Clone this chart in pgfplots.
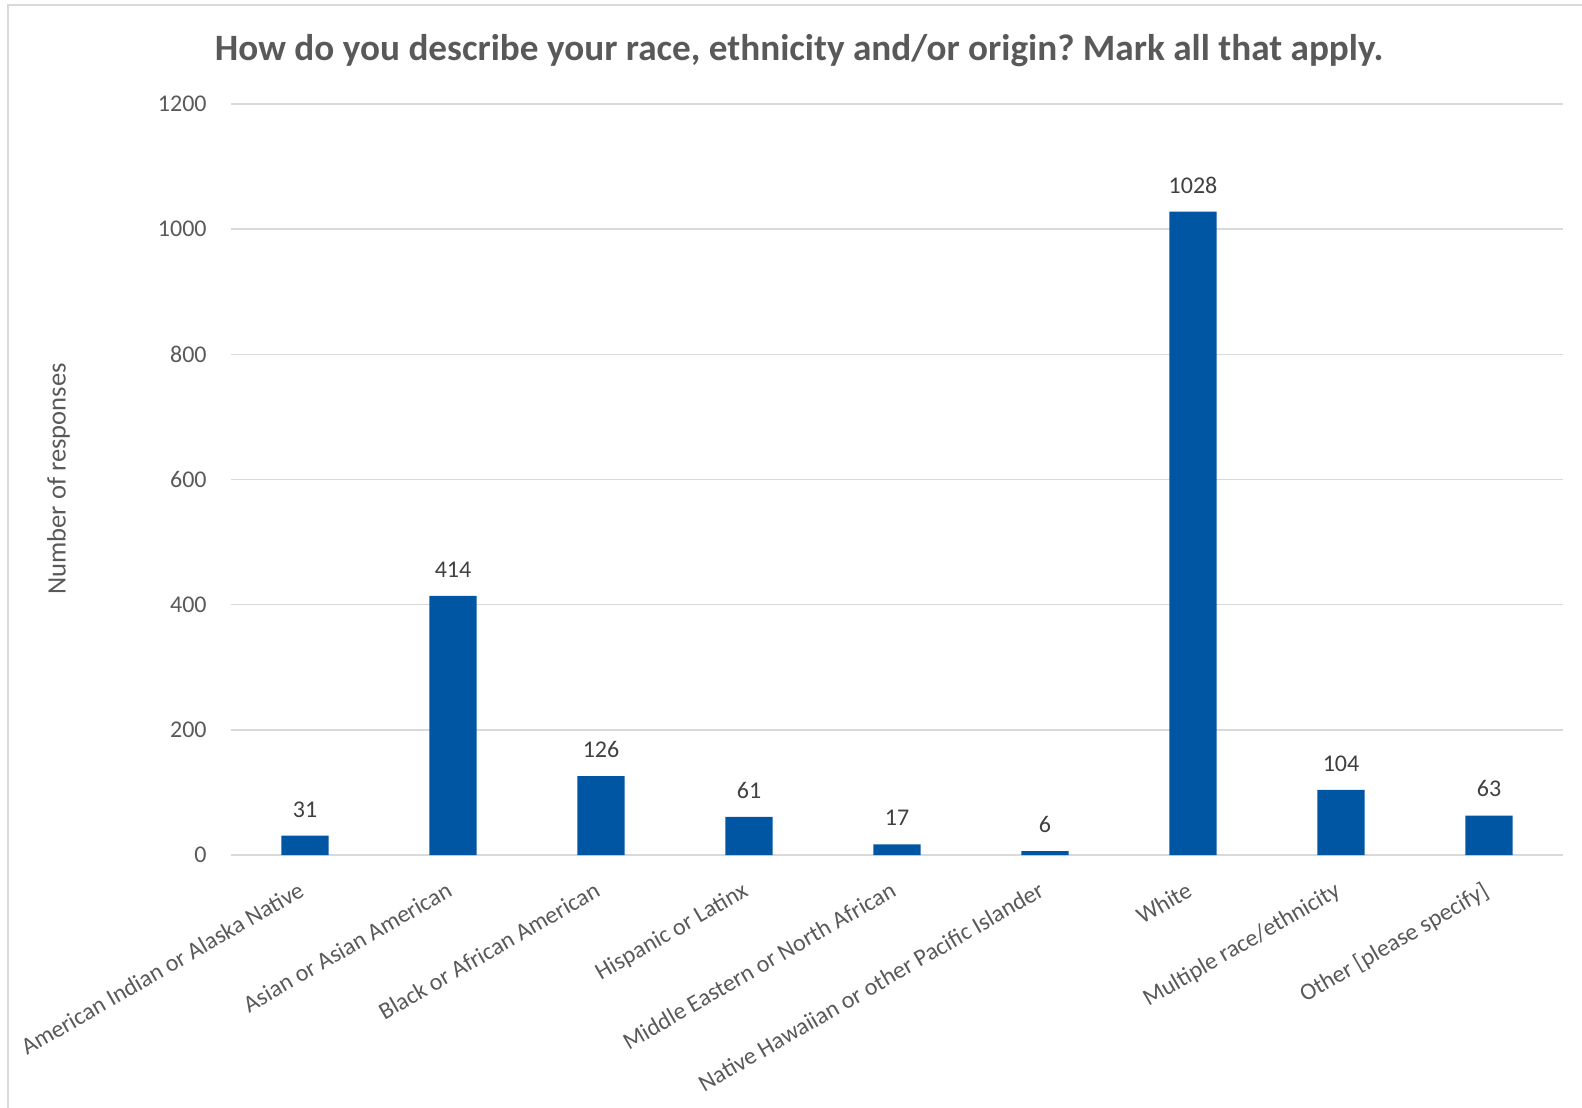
\documentclass[border=0pt]{standalone}
\usepackage{pgfplots}
\pgfplotsset{compat=1.18}
\usepackage{fontspec}
\setmainfont{Carlito}
\frenchspacing
\definecolor{barblue}{RGB}{0,86,163}
\definecolor{txtgray}{RGB}{89,89,89}
\definecolor{lblgray}{RGB}{64,64,64}
\definecolor{gridgray}{RGB}{217,217,217}

\begin{document}
\begin{tikzpicture}[x=0.5pt,y=0.5pt]
\useasboundingbox (0,0) rectangle (1582,1107);
% chart frame
\draw[gridgray, line width=1pt] (8,-10) -- (8,1102) -- (1600,1102);
% title
\node[font=\fontsize{18.6}{22}\selectfont\bfseries, text=txtgray] at (799,1056)
  {How do you describe your race, ethnicity and/or origin? Mark all that apply.};
\begin{axis}[
  at={(115.5pt,126pt)}, anchor=south west,
  scale only axis, width=666pt, height=375.5pt,
  xmin=-0.5, xmax=8.5, ymin=0, ymax=1200,
  ytick={0,200,...,1200},
  xtick=data,
  xticklabels={American Indian or Alaska Native, Asian or Asian American, Black or African American, Hispanic or Latinx, Middle Eastern or North African, Native Hawaiian or other Pacific Islander, White, Multiple race/ethnicity, Other [please specify]},
  axis line style={draw=none},
  major tick length=0pt,
  ymajorgrids, grid style={gridgray, line width=0.75pt},
  tick label style={font=\fontsize{12}{14}\selectfont, text=txtgray},
  /pgf/number format/assume math mode=true,
  /pgf/number format/1000 sep={},
  yticklabel style={anchor=east, inner sep=0pt, xshift=-12pt},
  xticklabel style={rotate=30, anchor=north east, inner sep=0pt, yshift=-9pt, xshift=-9.6pt},
  ybar, bar width=23.7pt,
  nodes near coords,
  nodes near coords style={font=\fontsize{12}{14}\selectfont, text=lblgray, anchor=south, inner sep=0pt, yshift=9pt},
  clip=false,
]
\addplot[fill=barblue, draw=none] coordinates {
  (0,31) (1,414) (2,126) (3,61) (4,17) (5,6) (6,1028) (7,104) (8,63)
};
\end{axis}
\node[rotate=90, font=\fontsize{13.3}{16}\selectfont, text=txtgray] at (58.5,628) {Number of responses};
\end{tikzpicture}
\end{document}
